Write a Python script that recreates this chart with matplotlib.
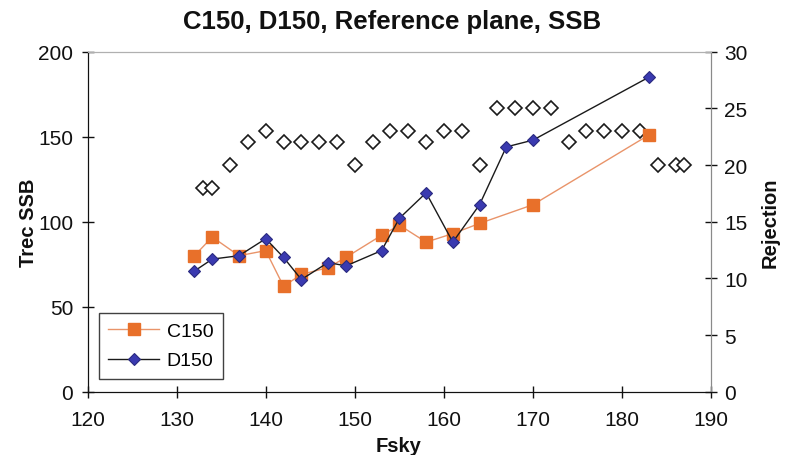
import matplotlib
matplotlib.use("Agg")
import matplotlib.pyplot as plt

plt.rcParams['font.family'] = ['Liberation Sans', 'DejaVu Sans']

# Receiver noise temperature, SSB (left axis)
c150_fsky = [132, 134, 137, 140, 142, 144, 147, 149, 153, 155, 158, 161, 164, 170, 183]
c150_trec = [80, 91, 80, 83, 62, 69, 73, 79, 92, 98, 88, 93, 99, 110, 151]

d150_fsky = [132, 134, 137, 140, 142, 144, 147, 149, 153, 155, 158, 161, 164, 167, 170, 183]
d150_trec = [71, 78, 80, 90, 79, 66, 76, 74, 83, 102, 117, 88, 110, 144, 148, 185]

# Sideband rejection (right axis)
rej_fsky = [133, 134, 136, 138, 140, 142, 144, 146, 148, 150, 152, 154, 156, 158, 160,
            162, 164, 166, 168, 170, 172, 174, 176, 178, 180, 182, 184, 186, 187]
rej_db = [18, 18, 20, 22, 23, 22, 22, 22, 22, 20, 22, 23, 23, 22, 23,
          23, 20, 25, 25, 25, 25, 22, 23, 23, 23, 23, 20, 20, 20]

x_ticks = [120, 130, 140, 150, 160, 170, 180, 190]
left_ticks = [0, 50, 100, 150, 200]
right_ticks = [0, 5, 10, 15, 20, 25, 30]

fig = plt.figure(figsize=(7.85, 4.56), dpi=100)
ax = fig.add_axes([0.1115, 0.1388, 0.7945, 0.7456])
ax2 = ax.twinx()

ax2.plot(rej_fsky, rej_db, linestyle='none', marker='D', ms=7.0,
         mfc='white', mec='#1a1a1a', mew=1.2, zorder=2)

ax.set_zorder(ax2.get_zorder() + 1)
ax.patch.set_visible(False)

ax.plot(c150_fsky, c150_trec, color='#e9946a', lw=1.0, marker='s', ms=8.8,
        mfc='#e8702a', mec='#e8702a', label='C150', zorder=3)
ax.plot(d150_fsky, d150_trec, color='#1a1a1a', lw=1.0, marker='D', ms=6.6,
        mfc='#3a3ab0', mec='#2a2a80', mew=0.8, label='D150', zorder=4)

ax.set_xlim(120, 190)
ax.set_ylim(0, 200)
ax2.set_ylim(0, 30)
ax.set_xticks(x_ticks)
ax.set_yticks(left_ticks)
ax2.set_yticks(right_ticks)

ax.tick_params(axis='both', direction='inout', length=8.5, width=1.0,
               labelsize=15, colors='#111111')
ax.tick_params(axis='x', pad=9)
ax.tick_params(axis='y', pad=6)
ax2.tick_params(axis='y', direction='inout', length=8.5, width=1.0,
                labelsize=15, colors='#111111', pad=5)

for a in (ax, ax2):
    a.spines['top'].set_color('#b0b0b0')
    a.spines['right'].set_color('#8a8a8a')
    a.spines['left'].set_color('#111111')
    a.spines['bottom'].set_color('#111111')

leg = ax.legend(loc='lower left', bbox_to_anchor=(0.018, 0.037), borderaxespad=0,
                fontsize=14, frameon=True, fancybox=False, handlelength=2.6,
                handletextpad=0.4, borderpad=0.5, labelspacing=0.6)
leg.get_frame().set_edgecolor('#111111')
leg.get_frame().set_linewidth(1.0)

fig.text(0.5, 0.952, 'C150, D150, Reference plane, SSB', ha='center', va='center',
         fontsize=18.5, fontweight='bold', color='#111111')
fig.text(28 / 785, 1 - 222.7 / 456, 'Trec SSB', ha='center', va='center',
         rotation=90, fontsize=14.5, fontweight='bold', color='#111111')
fig.text(770 / 785, 1 - 222.7 / 456, 'Rejection', ha='center', va='center',
         rotation=90, fontsize=14.5, fontweight='bold', color='#111111')
fig.text(399 / 785, 1 - 447 / 456, 'Fsky', ha='center', va='center',
         fontsize=14.5, fontweight='bold', color='#111111')

fig.savefig('out.png', dpi=100)
